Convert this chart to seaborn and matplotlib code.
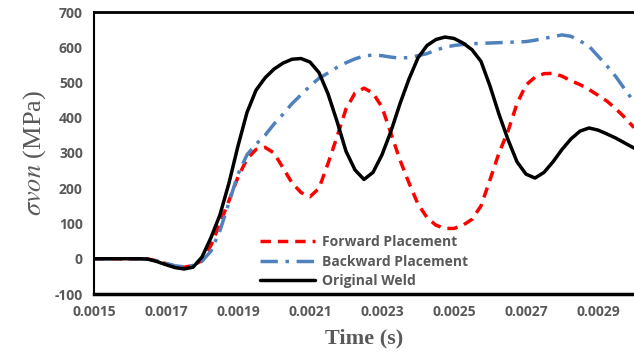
import numpy as np
import pandas as pd
import matplotlib
matplotlib.use("Agg")
import matplotlib.pyplot as plt
import seaborn as sns

time_s = [0.0015, 0.001525, 0.00155, 0.001575, 0.0016, 0.001625, 0.00165, 0.001675, 0.0017, 0.001725,
          0.00175, 0.001775, 0.0018, 0.001825, 0.00185, 0.001875, 0.0019, 0.001925, 0.00195, 0.001975,
          0.002, 0.002025, 0.00205, 0.002075, 0.0021, 0.002125, 0.00215, 0.002175, 0.0022, 0.002225,
          0.00225, 0.002275, 0.0023, 0.002325, 0.00235, 0.002375, 0.0024, 0.002425, 0.00245, 0.002475,
          0.0025, 0.002525, 0.00255, 0.002575, 0.0026, 0.002625, 0.00265, 0.002675, 0.0027, 0.002725,
          0.00275, 0.002775, 0.0028, 0.002825, 0.00285, 0.002875, 0.0029, 0.002925, 0.00295, 0.002975,
          0.003]

forward = [0, 0, 0, 0, 0, 0, -1, -6, -14, -21,
           -24, -19, -5, 38, 100, 165, 232, 283, 310, 316,
           300, 258, 215, 188, 176, 200, 270, 346, 425, 470,
           484, 470, 430, 355, 280, 215, 155, 117, 95, 86,
           86, 95, 112, 150, 224, 300, 362, 440, 493, 515,
           525, 526, 518, 505, 494, 480, 464, 447, 425, 400,
           372]

backward = [0, 0, 0, 0, 0, 0, -1, -6, -13, -20,
            -23, -19, -7, 22, 80, 160, 240, 295, 325, 350,
            382, 410, 440, 465, 490, 512, 527, 543, 556, 567,
            575, 578, 576, 572, 569, 571, 576, 582, 592, 600,
            605, 608, 610, 611, 612, 613, 614, 615, 616, 620,
            625, 630, 635, 631, 618, 603, 575, 547, 516, 480,
            445]

original = [0, 0, 0, 0, 0, 0, -1, -8, -17, -25,
            -29, -24, 5, 60, 125, 215, 320, 415, 478, 513,
            538, 555, 566, 568, 558, 528, 468, 390, 305, 252,
            225, 245, 295, 362, 440, 510, 570, 605, 622, 629,
            625, 612, 593, 560, 490, 410, 338, 275, 240, 229,
            245, 275, 310, 340, 362, 371, 365, 354, 342, 328,
            314]

series_names = ["Forward Placement", "Backward Placement", "Original Weld"]
x_ticks = [0.0015, 0.0017, 0.0019, 0.0021, 0.0023, 0.0025, 0.0027, 0.0029]
y_ticks = [-100, 0, 100, 200, 300, 400, 500, 600, 700]

sns.set_style("white")
plt.rcParams["mathtext.fontset"] = "stix"

df = pd.DataFrame({"t": time_s, "Forward Placement": forward,
                   "Backward Placement": backward, "Original Weld": original})

fig = plt.figure(figsize=(6.34, 3.64), dpi=100)
ax = fig.add_axes([94/634, 70/364, 540/634, 282/364])

styles = {
    "Forward Placement": dict(color="#FF0000", dashes=(3, 2)),
    "Backward Placement": dict(color="#4F81BD", dashes=(5, 2.2, 1, 2.2)),
    "Original Weld": dict(color="#000000", dashes=None),
}
for name in series_names:
    st = styles[name]
    sns.lineplot(data=df, x="t", y=name, ax=ax, color=st["color"], label=name,
                 linewidth=2.5)
    ln = ax.get_lines()[-1]
    ln.set_solid_joinstyle("round")
    ln.set_dash_joinstyle("round")
    if st["dashes"] is not None:
        ln.set_dashes(st["dashes"])

ax.set_xlim(0.0015, 0.0030)
ax.set_ylim(-100, 700)
ax.set_xticks(x_ticks)
ax.set_xticklabels([f"{v:.4f}" for v in x_ticks])
ax.set_yticks(y_ticks)
ax.set_yticklabels([str(v) for v in y_ticks])
grey = "#595959"
for lab in ax.get_xticklabels() + ax.get_yticklabels():
    lab.set_fontfamily("Open Sans")
    lab.set_fontweight("bold")
    lab.set_fontsize(10)
    lab.set_color(grey)
ax.tick_params(axis="both", length=0, pad=8)

ax.set_xlabel("Time (s)", fontfamily="Liberation Serif", fontweight="bold",
              fontsize=16, color=grey, labelpad=7)
ax.set_ylabel(r"$\sigma von$ (MPa)", fontfamily="Liberation Serif",
              fontsize=19, color=grey, labelpad=5)

for side in ["top", "bottom", "left"]:
    ax.spines[side].set_visible(True)
    ax.spines[side].set_color("black")
ax.spines["top"].set_linewidth(2)
ax.spines["bottom"].set_linewidth(2.5)
ax.spines["left"].set_linewidth(1.5)
ax.spines["right"].set_visible(False)

leg = ax.legend(loc="center", bbox_to_anchor=(0.50, 0.115), frameon=False,
                prop={"family": "Open Sans", "weight": "bold", "size": 10},
                handlelength=4.0, labelspacing=0.4, handletextpad=0.5)
for t in leg.get_texts():
    t.set_color(grey)

fig.savefig("out.png", dpi=100)
